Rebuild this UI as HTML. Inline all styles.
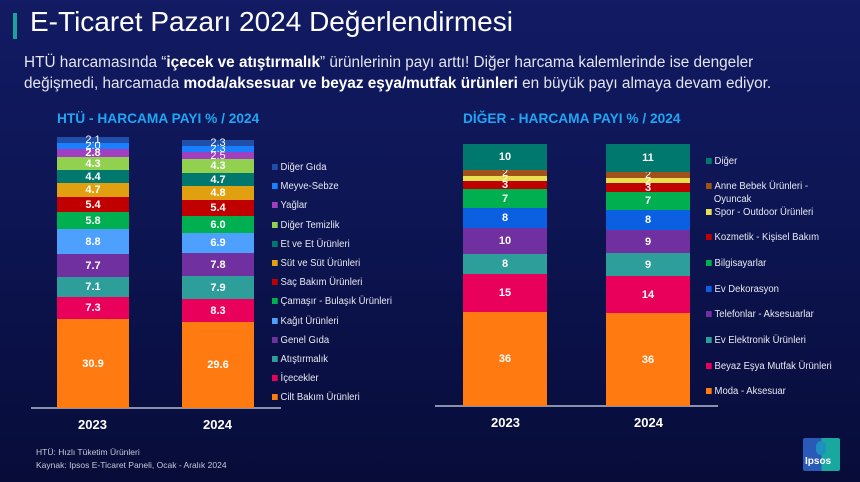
<!DOCTYPE html>
<html><head><meta charset="utf-8">
<style>
*{margin:0;padding:0;box-sizing:border-box}
body{width:860px;height:482px;overflow:hidden;background:linear-gradient(#121b63 0%,#0d1553 45%,#070c38 100%);font-family:"Liberation Sans",sans-serif;color:#fff;position:relative}
.a{position:absolute;white-space:nowrap}
.seg{position:absolute;display:flex;align-items:center;justify-content:center;font-weight:bold;font-size:11px;color:#fff;overflow:visible}
.lg{position:absolute;font-size:10px;color:#e8e8f0;white-space:nowrap;transform:scaleX(0.95);transform-origin:left}
.lg i{display:inline-block;width:6px;height:6px;margin-right:3px;vertical-align:0px}
</style></head><body>
<div class="a" style="left:13px;top:13px;width:4px;height:26px;background:#1aa39a"></div>
<div class="a" style="left:30px;top:6px;font-size:28px;color:#fff">E-Ticaret Pazarı 2024 Değerlendirmesi</div>
<div class="a" style="left:24px;top:52px;font-size:15.5px;color:#e4e4ee;line-height:21px;transform:scaleX(0.99);transform-origin:left">HTÜ harcamasında “<b style="color:#fff">içecek ve atıştırmalık</b>” ürünlerinin payı arttı! Diğer harcama kalemlerinde ise dengeler<br>değişmedi, harcamada <b style="color:#fff">moda/aksesuar ve beyaz eşya/mutfak ürünleri</b> en büyük payı almaya devam ediyor.</div>
<div class="a" style="left:57px;top:110px;font-size:14px;font-weight:bold;color:#1ea6f5;transform:scaleX(0.98);transform-origin:left">HTÜ - HARCAMA PAYI % / 2024</div>
<div class="a" style="left:463px;top:110px;font-size:14px;font-weight:bold;color:#1ea6f5;transform:scaleX(0.98);transform-origin:left">DİĞER - HARCAMA PAYI % / 2024</div>
<div class="a" style="left:31px;top:407px;width:250px;height:2px;background:#8a90a8"></div>
<div class="a" style="left:435px;top:405px;width:283px;height:2px;background:#8a90a8"></div>
<div class="a" style="left:78px;top:417px;font-size:13px;font-weight:bold">2023</div>
<div class="a" style="left:203px;top:417px;font-size:13px;font-weight:bold">2024</div>
<div class="a" style="left:491px;top:415px;font-size:13px;font-weight:bold">2023</div>
<div class="a" style="left:634px;top:415px;font-size:13px;font-weight:bold">2024</div>
<div class="a" style="left:36px;top:446px;font-size:8.5px;color:#c8c8d8;line-height:13px">HTÜ: Hızlı Tüketim Ürünleri<br>Kaynak: Ipsos E-Ticaret Paneli, Ocak - Aralık 2024</div>
<div class="a" style="left:803px;top:438px;width:37px;height:33px;background:linear-gradient(90deg,#2a5ab8 50%,#18a8a0 50%);border-radius:2px"></div>
<div class="a" style="left:816px;top:441px;width:10px;height:14px;background:#1f8fc0;border-radius:5px"></div>
<div class="a" style="left:805px;top:456px;font-size:10px;font-weight:bold;color:#fff">Ipsos</div>
<div id="c"></div>
<script>
var C=document.getElementById('c');
function bar(x,w,b,segs){
 var prev=b;
 for(var i=segs.length-1;i>=0;i--){var s=segs[i];var top=s[0];var d=document.createElement('div');d.className='seg';
 d.style.cssText='left:'+x+'px;width:'+w+'px;top:'+top+'px;height:'+(prev-top)+'px;background:'+s[1]+';'+(prev-top<8?'font-weight:normal;line-height:6px;':'');
 d.textContent=s[2];C.appendChild(d);prev=top;}
}
var L=['#1f4fa8','#1a7fff','#a040c0','#92d050','#00786e','#e0a010','#c00000','#00b050','#4ea0ff','#7030a0','#2e9e9a','#e8005a','#ff7a10'];
function mk(tops,vals,cols){return tops.map(function(t,i){return [t,cols[i],vals[i]]})}
bar(57,72,408,mk([137,143,149,157,170,183,197,212,229,254,277,297,319],['2.1','2.0','2.8','4.3','4.4','4.7','5.4','5.8','8.8','7.7','7.1','7.3','30.9'],L));
bar(182,72,408,mk([140,146,152,159,173,186,200,216,233,253,276,299,322],['2.3','2.3','2.5','4.3','4.7','4.8','5.4','6.0','6.9','7.8','7.9','8.3','29.6'],L));
var R=['#00786e','#a0521a','#e8e050','#c00000','#00b050','#0a60e0','#7030a0','#2e9e9a','#e8005a','#ff7a10'];
bar(463,84,406,mk([144,170,176,181,189,208,228,254,274,312],['10','2','2','3','7','8','10','8','15','36'],R));
bar(606,84,406,mk([144,172,178,183,192,210,230,253,276,313],['11','2','2','3','7','8','9','9','14','36'],R));
var ln=['Diğer Gıda','Meyve-Sebze','Yağlar','Diğer Temizlik','Et ve Et Ürünleri','Süt ve Süt Ürünleri','Saç Bakım Ürünleri','Çamaşır - Bulaşık Ürünleri','Kağıt Ürünleri','Genel Gıda','Atıştırmalık','İçecekler','Cilt Bakım Ürünleri'];
ln.forEach(function(t,i){var d=document.createElement('div');d.className='lg';d.style.left='272px';d.style.top=(162+i*19.2)+'px';d.innerHTML='<i style="background:'+L[i]+'"></i>'+t;C.appendChild(d)});
var rn=[['Diğer',161],['Anne Bebek Ürünleri -<br>&nbsp;&nbsp;&nbsp;Oyuncak',186],['Spor - Outdoor Ürünleri',212],['Kozmetik - Kişisel Bakım',237],['Bilgisayarlar',263],['Ev Dekorasyon',289],['Telefonlar - Aksesuarlar',314],['Ev Elektronik Ürünleri',340],['Beyaz Eşya Mutfak Ürünleri',366],['Moda - Aksesuar',391]];
rn.forEach(function(r,i){var d=document.createElement('div');d.className='lg';d.style.left='706px';d.style.top=(r[1]-6)+'px';d.style.lineHeight='13px';d.innerHTML='<i style="background:'+R[i]+'"></i>'+r[0];C.appendChild(d)});
</script>
</body></html>
